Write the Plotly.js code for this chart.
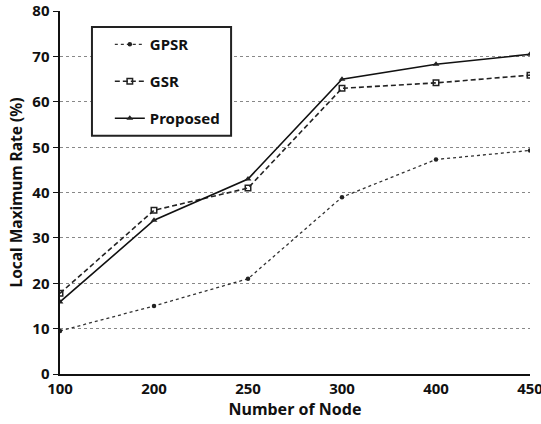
<!DOCTYPE html>
<html><head><meta charset="utf-8">
<script src="https://cdn.plot.ly/plotly-3.0.1.min.js"></script>
<style>html,body{margin:0;padding:0;background:#fff}#c{width:541px;height:424px}</style>
</head><body><div id="c"></div>
<script>
const nodes = ['100','200','250','300','400','450'];
const gpsr = [9.5, 15, 21, 39, 47.3, 49.3];
const gsr = [17.8, 36.1, 41, 63, 64.2, 65.9];
const proposed = [15.9, 33.9, 43, 65, 68.3, 70.5];
const yTicks = [0,10,20,30,40,50,60,70,80];

const F = '"Noto Sans", "DejaVu Sans", sans-serif';
const traces = [
  {x:nodes, y:gpsr, name:'GPSR', mode:'lines+markers', legendgroup:'a',
   line:{color:'#333', width:1.3, dash:'dot'}, marker:{symbol:'circle', size:4.5, color:'#222'}},
  {x:nodes, y:gsr, name:'GSR', mode:'lines+markers', legendgroup:'b',
   line:{color:'#222', width:1.6, dash:'5px,3px'}, marker:{symbol:'square-open', size:5.5, color:'#222', line:{width:1.5}}},
  {x:nodes, y:proposed, name:'Proposed', mode:'lines+markers', legendgroup:'c',
   line:{color:'#111', width:1.6}, marker:{symbol:'triangle-up', size:6, color:'#222'}}
];
const layout = {
  width:541, height:424,
  margin:{l:60, r:11, t:11, b:50},
  paper_bgcolor:'#fff', plot_bgcolor:'#fff',
  showlegend:true,
  font:{family:F, color:'#111'},
  xaxis:{type:'category', range:[0,5], showgrid:false, zeroline:false,
    showline:true, linecolor:'#111', linewidth:2, ticks:'',
    tickfont:{size:15, family:F, weight:'bold'},
    title:{text:'<b>Number of Node</b>', font:{size:16, family:F}, standoff:4}},
  yaxis:{range:[0,80.05], tickvals:yTicks, showgrid:true, gridcolor:'#888', griddash:'dot', gridwidth:1,
    zeroline:false, showline:true, linecolor:'#111', linewidth:2.5, ticks:'outside', ticklen:5, tickcolor:'#111',
    tickfont:{size:15, family:F, weight:'bold'},
    title:{text:'<b>Local Maximum Rate (%)</b>', font:{size:15.5, family:F}, standoff:6}},
  shapes:[{type:'rect', xref:'paper', yref:'paper', x0:0.068, x1:0.364, y0:0.656, y1:0.956,
    line:{color:'#222', width:2}, fillcolor:'#fff', layer:'above'}],
  legend:{x:0.106, y:0.953, xanchor:'left', yanchor:'top', borderwidth:0,
    bgcolor:'rgba(0,0,0,0)', font:{size:15, family:F, weight:'bold'}, traceorder:'grouped', tracegroupgap:14.5,
    itemwidth:30}
};
Plotly.newPlot('c', traces, layout, {displayModeBar:false, staticPlot:true});
</script></body></html>
